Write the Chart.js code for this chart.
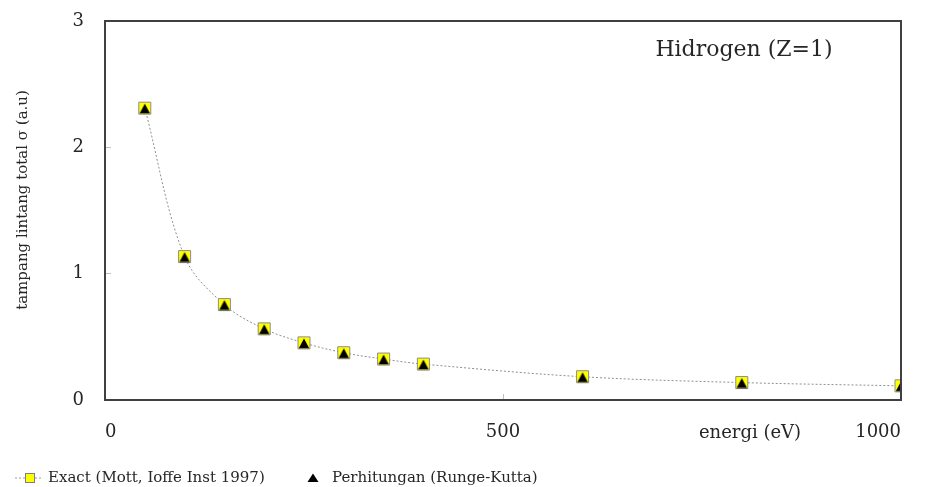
<!DOCTYPE html>
<html>
<head>
<meta charset="utf-8">
<script src="https://cdn.jsdelivr.net/npm/chart.js@4/dist/chart.umd.min.js"></script>
<style>
  html, body { margin: 0; padding: 0; background: #fff; }
  #wrap { width: 927px; height: 487px; }
</style>
</head>
<body>
<div id="wrap"><canvas id="myChart"></canvas></div>
<script>
const energies = [50, 100, 150, 200, 250, 300, 350, 400, 600, 800, 1000];
const exactValues = [2.31, 1.135, 0.755, 0.563, 0.452, 0.374, 0.324, 0.284, 0.184, 0.138, 0.112];
const rkValues = [2.31, 1.135, 0.755, 0.563, 0.452, 0.374, 0.324, 0.284, 0.184, 0.138, 0.112];
const xTicks = [0, 500, 1000];
const yTicks = [0, 1, 2, 3];
const seriesNames = ['Exact (Mott, Ioffe Inst 1997)', 'Perhitungan (Runge-Kutta)'];

const serif = "'DejaVu Serif', 'Liberation Serif', serif";
const textColor = '#262626';
const axisColor = '#404040';

// triangle marker, base sits on the bottom of the yellow square
function triangleMarker() {
  const c = document.createElement('canvas');
  c.width = 12;
  c.height = 12;
  const g = c.getContext('2d');
  g.fillStyle = '#000';
  g.beginPath();
  g.moveTo(6, 1.5);
  g.lineTo(11.2, 11.3);
  g.lineTo(0.8, 11.3);
  g.closePath();
  g.fill();
  return c;
}
const tri = triangleMarker();

const toPoints = (vals) => energies.map((e, i) => ({ x: e, y: vals[i] }));

const framePlugin = {
  id: 'frame',
  afterDraw(chart) {
    const ctx = chart.ctx;
    const a = chart.chartArea;
    ctx.save();
    ctx.strokeStyle = axisColor;
    ctx.lineWidth = 2;
    ctx.beginPath();
    ctx.moveTo(a.left, a.top);
    ctx.lineTo(a.right, a.top);
    ctx.lineTo(a.right, a.bottom);
    ctx.stroke();

    ctx.fillStyle = textColor;
    ctx.textAlign = 'center';
    ctx.textBaseline = 'middle';
    ctx.font = '22px ' + serif;
    ctx.fillText('Hidrogen (Z=1)', 744, 50);
    ctx.font = '18px ' + serif;
    ctx.fillText('energi (eV)', 750, 433);

    ctx.save();
    ctx.translate(23, 200);
    ctx.rotate(-Math.PI / 2);
    ctx.font = '15px ' + serif;
    ctx.fillText('tampang lintang total \u03c3 (a.u)', 0, 0);
    ctx.restore();

    // legend
    const ly = 478;
    ctx.strokeStyle = '#999';
    ctx.lineWidth = 1;
    ctx.setLineDash([2, 2]);
    ctx.beginPath();
    ctx.moveTo(15, ly);
    ctx.lineTo(43, ly);
    ctx.stroke();
    ctx.setLineDash([]);
    ctx.fillStyle = '#ffff00';
    ctx.fillRect(25, ly - 4.5, 10, 9);
    ctx.strokeStyle = '#7f7f7f';
    ctx.strokeRect(25.5, ly - 4.5, 9, 9);
    ctx.fillStyle = '#000';
    ctx.beginPath();
    ctx.moveTo(313, ly - 4.5);
    ctx.lineTo(318.5, ly + 4);
    ctx.lineTo(307.5, ly + 4);
    ctx.closePath();
    ctx.fill();

    ctx.fillStyle = textColor;
    ctx.textAlign = 'left';
    ctx.font = '15px ' + serif;
    ctx.fillText(seriesNames[0], 48, ly);
    ctx.fillText(seriesNames[1], 332, ly);
    ctx.restore();
  }
};

new Chart(document.getElementById('myChart').getContext('2d'), {
  type: 'scatter',
  data: {
    datasets: [
      {
        label: seriesNames[0],
        data: toPoints(exactValues),
        showLine: true,
        borderColor: '#8f8f8f',
        borderWidth: 1,
        borderDash: [2, 2],
        tension: 0.35,
        pointStyle: 'rect',
        pointRadius: 8.5,
        pointHoverRadius: 8.5,
        pointBackgroundColor: '#ffff00',
        pointBorderColor: '#8c8c8c',
        pointBorderWidth: 1,
        order: 2
      },
      {
        label: seriesNames[1],
        data: toPoints(rkValues),
        showLine: false,
        pointStyle: tri,
        pointRadius: 6,
        order: 1
      }
    ]
  },
  options: {
    responsive: true,
    maintainAspectRatio: false,
    animation: false,
    layout: { padding: { left: 0, top: 21, right: 26, bottom: 47 } },
    plugins: {
      legend: { display: false },
      tooltip: { enabled: false }
    },
    scales: {
      x: {
        type: 'linear',
        min: 0,
        max: 1000,
        afterFit: (scale) => {
          scale.height = 40;
          scale.paddingLeft = 0;
          scale.paddingRight = 0;
        },
        afterBuildTicks: (scale) => { scale.ticks = xTicks.map((v) => ({ value: v })); },
        grid: { display: true, drawOnChartArea: false, drawTicks: true, tickLength: -6, color: '#c0c0c0' },
        border: { display: true, color: axisColor, width: 2 },
        ticks: {
          align: 'inner', padding: 28, color: textColor,
          font: { family: serif, size: 18 },
          callback: (v) => String(v)
        }
      },
      y: {
        type: 'linear',
        min: 0,
        max: 3,
        afterFit: (scale) => {
          scale.width = 105;
          scale.paddingTop = 0;
          scale.paddingBottom = 0;
        },
        afterBuildTicks: (scale) => { scale.ticks = yTicks.map((v) => ({ value: v })); },
        grid: { display: true, drawOnChartArea: false, drawTicks: true, tickLength: -6, color: '#c0c0c0' },
        border: { display: true, color: axisColor, width: 2 },
        ticks: {
          padding: 27, color: textColor,
          font: { family: serif, size: 18 },
          callback: (v) => String(v)
        }
      }
    }
  },
  plugins: [framePlugin]
});
</script>
</body>
</html>
